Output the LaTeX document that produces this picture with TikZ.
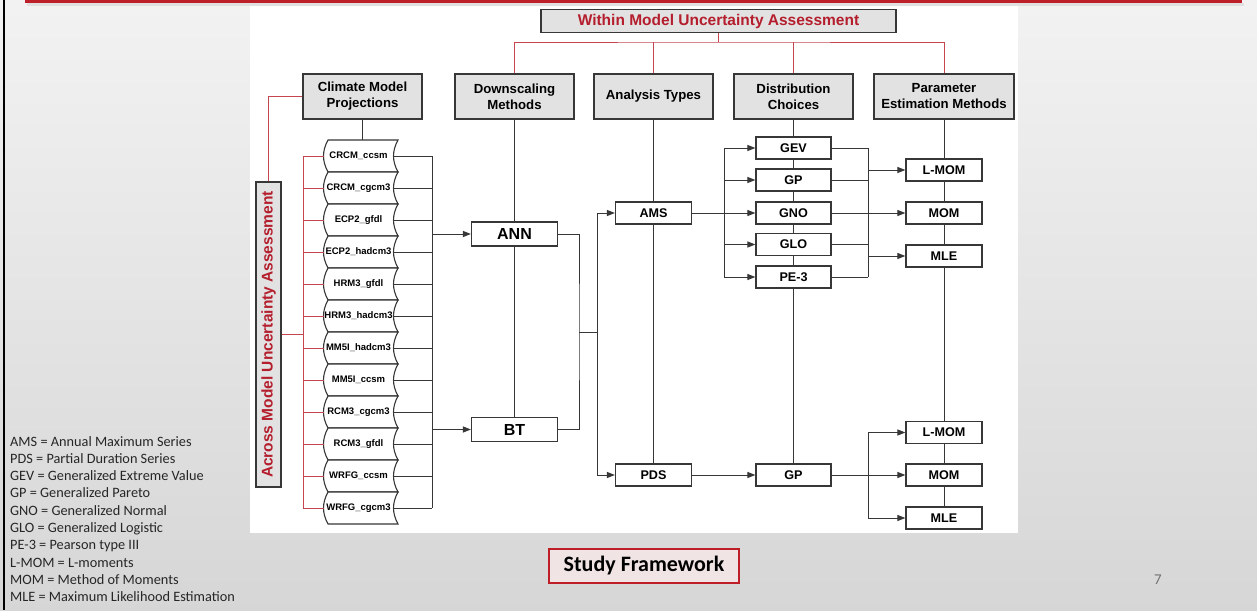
\documentclass[tikz,border=0pt]{standalone}
\usepackage{fontspec}
\setmainfont{Carlito}
\newfontfamily\arial{Liberation Sans}
\usetikzlibrary{arrows.meta}

\definecolor{barred}{RGB}{190,30,40}
\definecolor{wirered}{RGB}{195,70,80}
\definecolor{titlered}{RGB}{180,30,45}
\definecolor{headfill}{RGB}{226,226,226}
\definecolor{framefill}{RGB}{241,228,228}
\definecolor{edge}{RGB}{55,55,55}

\begin{document}
\begin{tikzpicture}[x=1pt,y=-1pt,
    head/.style={draw=edge,line width=1.3pt,fill=headfill,minimum width=119pt,minimum height=45pt,
        inner sep=1pt,align=center,font=\arial\bfseries\fontsize{13.2}{16}\selectfont},
    redhead/.style={draw=edge,line width=1.3pt,fill=headfill,inner sep=0pt,text=titlered,
        font=\arial\bfseries\fontsize{15.5}{17}\selectfont},
    box/.style={draw=edge,line width=1.2pt,fill=white,minimum width=76pt,minimum height=22pt,
        inner sep=0pt,font=\arial\bfseries\fontsize{12.6}{14}\selectfont},
    bigbox/.style={box,minimum width=86pt,minimum height=24pt,font=\arial\bfseries\fontsize{16}{18}\selectfont},
    model/.style={minimum width=69pt,minimum height=32pt,inner sep=0pt,font=\arial\bfseries\fontsize{9.5}{11}\selectfont},
    wire/.style={draw=edge,line width=1pt},
    feed/.style={wire,-{Triangle[length=8pt,width=6pt]}},
    redwire/.style={draw=wirered,line width=0.9pt},
    legend/.style={anchor=base west,inner sep=0pt,text=black!85,font=\fontsize{14.3}{17}\selectfont}]

    %%%%%%%%%%%%%%%%%%% Slide %%%%%%%%%%%%%%%%%%%%%%%%%%%%%%%
    \useasboundingbox (0,0) rectangle (1257,610);
    \shade [top color=black!5,bottom color=black!16] (0,0) rectangle (1257,610);
    \fill [black!12] (27,3) rectangle (1244,6);  % shadow under the bar
    \fill [barred] (25,0) rectangle (1242,3);
    \fill [black] (2.5,0) rectangle (5,610);
    \fill [white] (250,6) rectangle (1018,533);

    %%%%%%%%%%%%%%%%%%% Headers %%%%%%%%%%%%%%%%%%%%%%%%%%%%%
    \node [redhead,minimum width=355pt,minimum height=23pt] (within) at (718.5,21) {Within Model Uncertainty Assessment};
    \node [head] (climate) at (362.5,96.5) {Climate Model\\Projections};
    \node [head] (downsc) at (514.5,96.5) {Downscaling\\Methods};
    \node [head] (analysis) at (653.5,96.5) {Analysis Types};
    \node [head] (distrib) at (793.5,96.5) {Distribution\\Choices};
    \node [head,minimum width=140pt] (param) at (944,96.5) {Parameter\\Estimation Methods};
    \node [redhead,minimum width=25pt,minimum height=305pt] (across) at (268.5,334.5)
        {\rotatebox{90}{Across Model Uncertainty Assessment}};

    % red tree from the top box
    \coordinate (withinbus) at (718.5,42);
    \draw [redwire] (within.south) -- (withinbus);
    \draw [redwire] (downsc.north) |- (withinbus) -| (param.north);
    \draw [redwire] (analysis.north) -- (analysis.north |- withinbus);
    \draw [redwire] (distrib.north) -- (distrib.north |- withinbus);

    %%%%%%%%%%%%%%%%%%% Climate models %%%%%%%%%%%%%%%%%%%%%%
    \foreach \lbl [count=\i] in {CRCM\_ccsm,CRCM\_cgcm3,ECP2\_gfdl,ECP2\_hadcm3,HRM3\_gfdl,HRM3\_hadcm3,
                                  MM5I\_hadcm3,MM5I\_ccsm,RCM3\_cgcm3,RCM3\_gfdl,WRFG\_ccsm,WRFG\_cgcm3} {
        \pgfmathsetmacro{\yc}{156+32*(\i-1)}
        \draw [edge,line width=1.1pt,fill=white] (328,\yc-16) -- (398,\yc-16)
            .. controls (392,\yc-5) and (392,\yc+5) .. (398,\yc+16) -- (328,\yc+16)
            .. controls (322,\yc+5) and (322,\yc-5) .. (328,\yc-16) -- cycle;
        \node [model] (m\i) at (358.5,\yc) {\lbl};
    }
    \draw [wire] (climate.south) -- (climate.south |- m1.north);

    % red bus on the left
    \coordinate (redbus) at (303,334.5);
    \draw [redwire] (climate.west) -| (across.north);
    \draw [redwire] (across.east) -- (redbus);
    \draw [redwire] (m1.west -| redbus) -- (m12.west -| redbus);
    \foreach \i in {1,...,12} \draw [redwire] (m\i.west -| redbus) -- (m\i.west);

    % black bus on the right
    \coordinate (modbus) at (432,0);
    \foreach \i in {1,...,12} \draw [wire] (m\i.east) -- (m\i.east -| modbus);
    \draw [wire] (m1.east -| modbus) -- (m12.east -| modbus);

    %%%%%%%%%%%%%%%%%%% Downscaling %%%%%%%%%%%%%%%%%%%%%%%%%%
    \node [bigbox] (ann) at (514.5,234) {ANN};
    \node [bigbox] (bt) at (514.5,429.5) {BT};
    \draw [feed] (ann.west -| modbus) -- (ann.west);
    \draw [feed] (bt.west -| modbus) -- (bt.west);
    \draw [wire] (downsc.south) -- (ann.north) (ann.south) -- (bt.north);

    \coordinate (dsbus) at (579,332);
    \coordinate (atbus) at (597,332);
    \draw [wire] (ann.east) -| (dsbus) |- (bt.east);
    \draw [wire] (dsbus) -- (atbus);

    %%%%%%%%%%%%%%%%%%% Analysis types %%%%%%%%%%%%%%%%%%%%%%%
    \node [box] (ams) at (653.5,213) {AMS};
    \node [box] (pds) at (653.5,475) {PDS};
    \draw [feed] (atbus) |- (ams.west);
    \draw [feed] (atbus) |- (pds.west);
    \draw [wire] (analysis.south) -- (ams.north) (ams.south) -- (pds.north);

    %%%%%%%%%%%%%%%%%%% Distributions %%%%%%%%%%%%%%%%%%%%%%%%
    \foreach \name/\lbl/\yc in {gev/GEV/148,gp/GP/180,gno/GNO/213,glo/GLO/244.5,pe3/PE-3/277,gpp/GP/475}
        \node [box,minimum width=75pt] (\name) at (793.5,\yc) {\lbl};
    \draw [wire] (distrib.south) -- (gev.north) (gev.south) -- (gp.north) (gp.south) -- (gno.north)
        (gno.south) -- (glo.north) (glo.south) -- (pe3.north) (pe3.south) -- (gpp.north);

    \coordinate (dinbus) at (724,0);
    \coordinate (doutbus) at (868,0);
    \draw [wire] (gev.west -| dinbus) -- (pe3.west -| dinbus);
    \foreach \name in {gev,gp,glo,pe3} \draw [feed] (\name.west -| dinbus) -- (\name.west);
    \draw [feed] (ams.east) -- (gno.west);
    \foreach \name in {gev,gp,gno,glo,pe3} \draw [wire] (\name.east) -- (\name.east -| doutbus);
    \draw [wire] (gev.east -| doutbus) -- (pe3.east -| doutbus);
    \draw [feed] (pds.east) -- (gpp.west);
    \draw [wire] (gpp.east) -- (gpp.east -| doutbus);

    %%%%%%%%%%%%%%%%%%% Parameter estimation %%%%%%%%%%%%%%%%%
    \foreach \name/\lbl/\yc in {lmom/L-MOM/170,mom/MOM/213,mle/MLE/256,lmomp/L-MOM/432.5,momp/MOM/475,mlep/MLE/518}
        \node [box] (\name) at (944,\yc) {\lbl};
    \draw [wire] (param.south) -- (lmom.north) (lmom.south) -- (mom.north) (mom.south) -- (mle.north)
        (mle.south) -- (lmomp.north) (lmomp.south) -- (momp.north) (momp.south) -- (mlep.north);
    \draw [wire] (lmomp.west -| doutbus) -- (mlep.west -| doutbus);
    \foreach \name in {lmom,mom,mle,lmomp,momp,mlep} \draw [feed] (\name.west -| doutbus) -- (\name.west);

    %%%%%%%%%%%%%%%%%%% Legend and caption %%%%%%%%%%%%%%%%%%%
    \foreach \txt [count=\i] in {AMS = Annual Maximum Series,PDS = Partial Duration Series,
            GEV = Generalized Extreme Value,GP = Generalized Pareto,GNO = Generalized Normal,
            GLO = Generalized Logistic,PE-3 = Pearson type III,L-MOM = L-moments,
            MOM = Method of Moments,MLE = Maximum Likelihood Estimation}
        \node [legend] (leg\i) at (10,{446+17.3*(\i-1)}) {\txt};

    \node [draw=barred,line width=1.2pt,fill=framefill,minimum width=190pt,minimum height=34pt,inner sep=0pt,
        font=\bfseries\fontsize{22}{24}\selectfont] (frame) at (644,566) {Study Framework};
    \node [text=black!55,font=\fontsize{15}{17}\selectfont] (pageno) at (1158,580) {7};

\end{tikzpicture}
\end{document}
